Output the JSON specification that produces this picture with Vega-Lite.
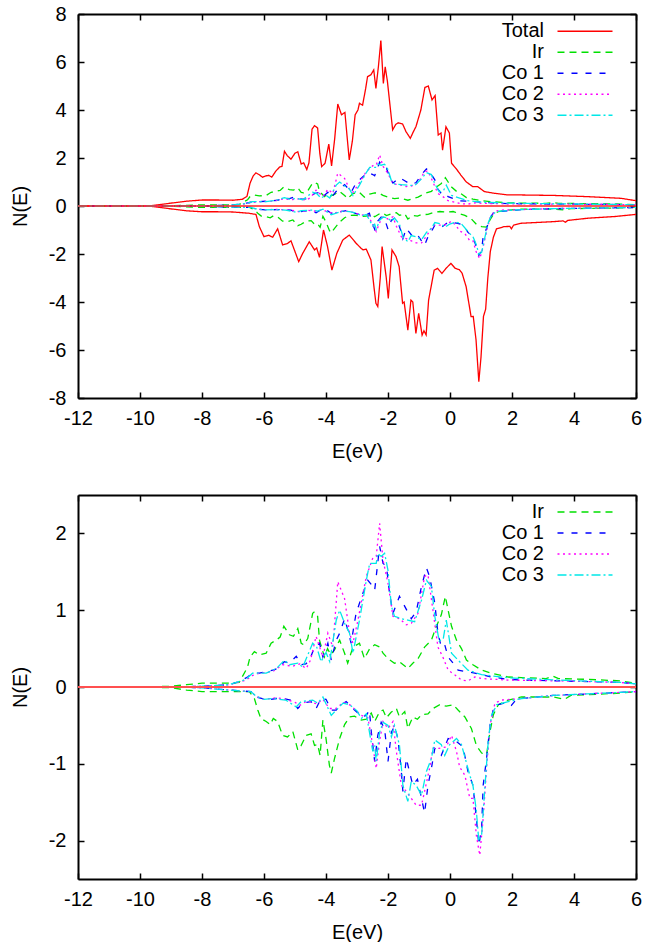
{
"$schema": "https://vega.github.io/schema/vega-lite/v6.json",
"background": "white",
"padding": {"left": 10, "top": 4, "right": 0, "bottom": 0},
"spacing": 33,
"config": {
  "font": "Liberation Sans",
  "view": {"stroke": null},
  "axis": {"labelFont": "Liberation Sans", "labelFontSize": 20, "labelColor": "black", "titleFont": "Liberation Sans", "titleFontSize": 20, "titleFontWeight": "normal", "titleColor": "black", "grid": false, "domainColor": "black", "domainWidth": 2, "tickColor": "black", "tickWidth": 1.5, "tickSize": -6, "labelFlush": false, "labelOverlap": false, "labelExpr": "'' + datum.value"},
  "axisX": {"labelPadding": 16, "titlePadding": 13},
  "axisY": {"labelPadding": 18, "titlePadding": 18},
  "legend": {"title": null, "orient": "none", "symbolType": "M-5,0H5", "symbolSize": 121, "symbolStrokeWidth": 1.5, "labelFont": "Liberation Sans", "labelFontSize": 20, "labelColor": "black", "labelAlign": "right", "labelOffset": -51, "rowPadding": 1, "padding": 0}
},
"datasets": {
"dos": [
{"s":"Total","p":"u","E":-12,"N":0},{"s":"Total","p":"u","E":-10,"N":0},{"s":"Total","p":"u","E":-9.6,"N":0.02},{"s":"Total","p":"u","E":-9.0,"N":0.12},{"s":"Total","p":"u","E":-8.5,"N":0.2},{"s":"Total","p":"u","E":-8.0,"N":0.25},{"s":"Total","p":"u","E":-7.5,"N":0.25},{"s":"Total","p":"u","E":-7.0,"N":0.24},{"s":"Total","p":"u","E":-6.7,"N":0.28},{"s":"Total","p":"u","E":-6.55,"N":0.4},{"s":"Total","p":"u","E":-6.45,"N":0.95},{"s":"Total","p":"u","E":-6.35,"N":1.25},{"s":"Total","p":"u","E":-6.26,"N":1.38},{"s":"Total","p":"u","E":-6.15,"N":1.3},{"s":"Total","p":"u","E":-6.05,"N":1.2},{"s":"Total","p":"u","E":-5.95,"N":1.25},{"s":"Total","p":"u","E":-5.85,"N":1.28},{"s":"Total","p":"u","E":-5.75,"N":1.2},{"s":"Total","p":"u","E":-5.62,"N":1.45},{"s":"Total","p":"u","E":-5.5,"N":1.62},{"s":"Total","p":"u","E":-5.42,"N":1.65},{"s":"Total","p":"u","E":-5.34,"N":2.28},{"s":"Total","p":"u","E":-5.25,"N":2.1},{"s":"Total","p":"u","E":-5.13,"N":1.95},{"s":"Total","p":"u","E":-5.0,"N":2.2},{"s":"Total","p":"u","E":-4.91,"N":2.26},{"s":"Total","p":"u","E":-4.8,"N":1.75},{"s":"Total","p":"u","E":-4.72,"N":1.8},{"s":"Total","p":"u","E":-4.62,"N":1.52},{"s":"Total","p":"u","E":-4.55,"N":1.8},{"s":"Total","p":"u","E":-4.45,"N":3.2},{"s":"Total","p":"u","E":-4.37,"N":3.35},{"s":"Total","p":"u","E":-4.27,"N":3.25},{"s":"Total","p":"u","E":-4.2,"N":2.2},{"s":"Total","p":"u","E":-4.14,"N":1.64},{"s":"Total","p":"u","E":-4.03,"N":1.78},{"s":"Total","p":"u","E":-3.91,"N":2.58},{"s":"Total","p":"u","E":-3.82,"N":1.67},{"s":"Total","p":"u","E":-3.72,"N":2.8},{"s":"Total","p":"u","E":-3.62,"N":4.25},{"s":"Total","p":"u","E":-3.5,"N":3.8},{"s":"Total","p":"u","E":-3.39,"N":3.9},{"s":"Total","p":"u","E":-3.32,"N":2.9},{"s":"Total","p":"u","E":-3.25,"N":1.92},{"s":"Total","p":"u","E":-3.15,"N":2.7},{"s":"Total","p":"u","E":-3.06,"N":3.8},{"s":"Total","p":"u","E":-2.97,"N":4.0},{"s":"Total","p":"u","E":-2.92,"N":4.28},{"s":"Total","p":"u","E":-2.82,"N":4.2},{"s":"Total","p":"u","E":-2.72,"N":4.9},{"s":"Total","p":"u","E":-2.66,"N":5.39},{"s":"Total","p":"u","E":-2.55,"N":5.47},{"s":"Total","p":"u","E":-2.46,"N":5.67},{"s":"Total","p":"u","E":-2.39,"N":4.9},{"s":"Total","p":"u","E":-2.31,"N":5.8},{"s":"Total","p":"u","E":-2.23,"N":6.89},{"s":"Total","p":"u","E":-2.15,"N":5.11},{"s":"Total","p":"u","E":-2.09,"N":5.8},{"s":"Total","p":"u","E":-2.02,"N":5.2},{"s":"Total","p":"u","E":-1.96,"N":4.49},{"s":"Total","p":"u","E":-1.85,"N":3.17},{"s":"Total","p":"u","E":-1.75,"N":3.4},{"s":"Total","p":"u","E":-1.67,"N":3.47},{"s":"Total","p":"u","E":-1.53,"N":3.42},{"s":"Total","p":"u","E":-1.42,"N":3.1},{"s":"Total","p":"u","E":-1.28,"N":2.82},{"s":"Total","p":"u","E":-1.18,"N":3.1},{"s":"Total","p":"u","E":-1.1,"N":3.3},{"s":"Total","p":"u","E":-0.94,"N":4.0},{"s":"Total","p":"u","E":-0.81,"N":4.94},{"s":"Total","p":"u","E":-0.7,"N":5.0},{"s":"Total","p":"u","E":-0.58,"N":4.42},{"s":"Total","p":"u","E":-0.48,"N":4.6},{"s":"Total","p":"u","E":-0.38,"N":2.96},{"s":"Total","p":"u","E":-0.29,"N":3.04},{"s":"Total","p":"u","E":-0.24,"N":2.33},{"s":"Total","p":"u","E":-0.13,"N":3.3},{"s":"Total","p":"u","E":-0.02,"N":3.04},{"s":"Total","p":"u","E":0.05,"N":1.78},{"s":"Total","p":"u","E":0.19,"N":1.57},{"s":"Total","p":"u","E":0.35,"N":1.29},{"s":"Total","p":"u","E":0.52,"N":1.01},{"s":"Total","p":"u","E":0.73,"N":0.81},{"s":"Total","p":"u","E":0.89,"N":0.81},{"s":"Total","p":"u","E":1.11,"N":0.6},{"s":"Total","p":"u","E":1.43,"N":0.53},{"s":"Total","p":"u","E":1.86,"N":0.46},{"s":"Total","p":"u","E":2.3,"N":0.46},{"s":"Total","p":"u","E":3.36,"N":0.44},{"s":"Total","p":"u","E":4.44,"N":0.39},{"s":"Total","p":"u","E":5.52,"N":0.32},{"s":"Total","p":"u","E":6.0,"N":0.22},
{"s":"Total","p":"d","E":-12,"N":0},{"s":"Total","p":"d","E":-10,"N":0},{"s":"Total","p":"d","E":-9.6,"N":-0.02},{"s":"Total","p":"d","E":-9.0,"N":-0.12},{"s":"Total","p":"d","E":-8.5,"N":-0.2},{"s":"Total","p":"d","E":-8.0,"N":-0.24},{"s":"Total","p":"d","E":-7.5,"N":-0.24},{"s":"Total","p":"d","E":-7.0,"N":-0.25},{"s":"Total","p":"d","E":-6.5,"N":-0.3},{"s":"Total","p":"d","E":-6.26,"N":-0.35},{"s":"Total","p":"d","E":-6.15,"N":-0.86},{"s":"Total","p":"d","E":-6.0,"N":-1.28},{"s":"Total","p":"d","E":-5.85,"N":-1.22},{"s":"Total","p":"d","E":-5.72,"N":-1.3},{"s":"Total","p":"d","E":-5.56,"N":-0.95},{"s":"Total","p":"d","E":-5.4,"N":-1.62},{"s":"Total","p":"d","E":-5.24,"N":-1.56},{"s":"Total","p":"d","E":-5.13,"N":-1.45},{"s":"Total","p":"d","E":-5.02,"N":-1.83},{"s":"Total","p":"d","E":-4.88,"N":-2.32},{"s":"Total","p":"d","E":-4.75,"N":-1.97},{"s":"Total","p":"d","E":-4.54,"N":-1.49},{"s":"Total","p":"d","E":-4.37,"N":-1.83},{"s":"Total","p":"d","E":-4.3,"N":-1.75},{"s":"Total","p":"d","E":-4.21,"N":-2.14},{"s":"Total","p":"d","E":-4.08,"N":-1.0},{"s":"Total","p":"d","E":-3.95,"N":-1.69},{"s":"Total","p":"d","E":-3.81,"N":-2.67},{"s":"Total","p":"d","E":-3.65,"N":-1.97},{"s":"Total","p":"d","E":-3.46,"N":-1.42},{"s":"Total","p":"d","E":-3.25,"N":-1.21},{"s":"Total","p":"d","E":-3.03,"N":-1.55},{"s":"Total","p":"d","E":-2.87,"N":-1.76},{"s":"Total","p":"d","E":-2.8,"N":-1.83},{"s":"Total","p":"d","E":-2.7,"N":-1.8},{"s":"Total","p":"d","E":-2.55,"N":-2.25},{"s":"Total","p":"d","E":-2.45,"N":-3.4},{"s":"Total","p":"d","E":-2.39,"N":-4.05},{"s":"Total","p":"d","E":-2.33,"N":-4.19},{"s":"Total","p":"d","E":-2.25,"N":-3.0},{"s":"Total","p":"d","E":-2.19,"N":-1.69},{"s":"Total","p":"d","E":-2.06,"N":-2.94},{"s":"Total","p":"d","E":-1.99,"N":-3.85},{"s":"Total","p":"d","E":-1.93,"N":-2.8},{"s":"Total","p":"d","E":-1.87,"N":-1.83},{"s":"Total","p":"d","E":-1.74,"N":-2.11},{"s":"Total","p":"d","E":-1.64,"N":-2.53},{"s":"Total","p":"d","E":-1.53,"N":-4.05},{"s":"Total","p":"d","E":-1.48,"N":-4.0},{"s":"Total","p":"d","E":-1.36,"N":-5.17},{"s":"Total","p":"d","E":-1.26,"N":-3.92},{"s":"Total","p":"d","E":-1.2,"N":-4.0},{"s":"Total","p":"d","E":-1.1,"N":-5.31},{"s":"Total","p":"d","E":-1.01,"N":-4.47},{"s":"Total","p":"d","E":-0.9,"N":-5.38},{"s":"Total","p":"d","E":-0.84,"N":-5.2},{"s":"Total","p":"d","E":-0.77,"N":-5.37},{"s":"Total","p":"d","E":-0.69,"N":-3.92},{"s":"Total","p":"d","E":-0.51,"N":-2.67},{"s":"Total","p":"d","E":-0.4,"N":-2.6},{"s":"Total","p":"d","E":-0.26,"N":-2.81},{"s":"Total","p":"d","E":-0.13,"N":-2.6},{"s":"Total","p":"d","E":0.03,"N":-2.39},{"s":"Total","p":"d","E":0.17,"N":-2.6},{"s":"Total","p":"d","E":0.3,"N":-2.65},{"s":"Total","p":"d","E":0.39,"N":-2.8},{"s":"Total","p":"d","E":0.52,"N":-3.36},{"s":"Total","p":"d","E":0.68,"N":-4.61},{"s":"Total","p":"d","E":0.75,"N":-4.6},{"s":"Total","p":"d","E":0.84,"N":-5.58},{"s":"Total","p":"d","E":0.93,"N":-7.32},{"s":"Total","p":"d","E":1.0,"N":-6.3},{"s":"Total","p":"d","E":1.08,"N":-4.6},{"s":"Total","p":"d","E":1.15,"N":-4.3},{"s":"Total","p":"d","E":1.22,"N":-3.0},{"s":"Total","p":"d","E":1.3,"N":-1.9},{"s":"Total","p":"d","E":1.4,"N":-1.3},{"s":"Total","p":"d","E":1.5,"N":-0.95},{"s":"Total","p":"d","E":1.75,"N":-0.86},{"s":"Total","p":"d","E":1.93,"N":-0.85},{"s":"Total","p":"d","E":1.98,"N":-0.95},{"s":"Total","p":"d","E":2.05,"N":-0.8},{"s":"Total","p":"d","E":2.29,"N":-0.72},{"s":"Total","p":"d","E":3.36,"N":-0.65},{"s":"Total","p":"d","E":3.65,"N":-0.62},{"s":"Total","p":"d","E":3.72,"N":-0.68},{"s":"Total","p":"d","E":3.8,"N":-0.6},{"s":"Total","p":"d","E":4.44,"N":-0.51},{"s":"Total","p":"d","E":5.3,"N":-0.44},{"s":"Total","p":"d","E":6.0,"N":-0.35},
{"s":"Ir","p":"u","E":-12,"N":0},{"s":"Ir","p":"u","E":-10,"N":0},{"s":"Ir","p":"u","E":-9,"N":0.01},{"s":"Ir","p":"u","E":-8.5,"N":0.03},{"s":"Ir","p":"u","E":-8,"N":0.05},{"s":"Ir","p":"u","E":-7.5,"N":0.05},{"s":"Ir","p":"u","E":-7.12,"N":0.05},{"s":"Ir","p":"u","E":-6.8,"N":0.06},{"s":"Ir","p":"u","E":-6.53,"N":0.26},{"s":"Ir","p":"u","E":-6.45,"N":0.39},{"s":"Ir","p":"u","E":-6.31,"N":0.46},{"s":"Ir","p":"u","E":-6.15,"N":0.42},{"s":"Ir","p":"u","E":-5.93,"N":0.44},{"s":"Ir","p":"u","E":-5.77,"N":0.57},{"s":"Ir","p":"u","E":-5.61,"N":0.61},{"s":"Ir","p":"u","E":-5.48,"N":0.65},{"s":"Ir","p":"u","E":-5.36,"N":0.79},{"s":"Ir","p":"u","E":-5.18,"N":0.68},{"s":"Ir","p":"u","E":-5.05,"N":0.66},{"s":"Ir","p":"u","E":-4.91,"N":0.76},{"s":"Ir","p":"u","E":-4.8,"N":0.57},{"s":"Ir","p":"u","E":-4.72,"N":0.55},{"s":"Ir","p":"u","E":-4.59,"N":0.63},{"s":"Ir","p":"u","E":-4.43,"N":0.96},{"s":"Ir","p":"u","E":-4.37,"N":0.98},{"s":"Ir","p":"u","E":-4.27,"N":0.92},{"s":"Ir","p":"u","E":-4.21,"N":0.61},{"s":"Ir","p":"u","E":-4.05,"N":0.39},{"s":"Ir","p":"u","E":-3.95,"N":0.5},{"s":"Ir","p":"u","E":-3.85,"N":0.42},{"s":"Ir","p":"u","E":-3.73,"N":0.48},{"s":"Ir","p":"u","E":-3.56,"N":0.61},{"s":"Ir","p":"u","E":-3.4,"N":0.44},{"s":"Ir","p":"u","E":-3.3,"N":0.31},{"s":"Ir","p":"u","E":-3.13,"N":0.52},{"s":"Ir","p":"u","E":-2.92,"N":0.57},{"s":"Ir","p":"u","E":-2.76,"N":0.37},{"s":"Ir","p":"u","E":-2.59,"N":0.5},{"s":"Ir","p":"u","E":-2.43,"N":0.55},{"s":"Ir","p":"u","E":-2.27,"N":0.52},{"s":"Ir","p":"u","E":-2.16,"N":0.44},{"s":"Ir","p":"u","E":-2.0,"N":0.37},{"s":"Ir","p":"u","E":-1.79,"N":0.31},{"s":"Ir","p":"u","E":-1.63,"N":0.33},{"s":"Ir","p":"u","E":-1.36,"N":0.24},{"s":"Ir","p":"u","E":-1.2,"N":0.31},{"s":"Ir","p":"u","E":-1.03,"N":0.37},{"s":"Ir","p":"u","E":-0.82,"N":0.52},{"s":"Ir","p":"u","E":-0.6,"N":0.61},{"s":"Ir","p":"u","E":-0.44,"N":0.79},{"s":"Ir","p":"u","E":-0.28,"N":0.94},{"s":"Ir","p":"u","E":-0.15,"N":1.18},{"s":"Ir","p":"u","E":-0.06,"N":1.0},{"s":"Ir","p":"u","E":0.05,"N":0.79},{"s":"Ir","p":"u","E":0.21,"N":0.61},{"s":"Ir","p":"u","E":0.37,"N":0.5},{"s":"Ir","p":"u","E":0.53,"N":0.35},{"s":"Ir","p":"u","E":0.74,"N":0.29},{"s":"Ir","p":"u","E":1.02,"N":0.22},{"s":"Ir","p":"u","E":1.34,"N":0.18},{"s":"Ir","p":"u","E":1.88,"N":0.13},{"s":"Ir","p":"u","E":2.42,"N":0.12},{"s":"Ir","p":"u","E":3.1,"N":0.11},{"s":"Ir","p":"u","E":3.33,"N":0.14},{"s":"Ir","p":"u","E":3.5,"N":0.11},{"s":"Ir","p":"u","E":4.41,"N":0.1},{"s":"Ir","p":"u","E":5.49,"N":0.08},{"s":"Ir","p":"u","E":6.0,"N":0.05},
{"s":"Ir","p":"d","E":-12,"N":0},{"s":"Ir","p":"d","E":-10,"N":0},{"s":"Ir","p":"d","E":-9,"N":-0.01},{"s":"Ir","p":"d","E":-8.5,"N":-0.04},{"s":"Ir","p":"d","E":-8,"N":-0.06},{"s":"Ir","p":"d","E":-7.5,"N":-0.06},{"s":"Ir","p":"d","E":-7.12,"N":-0.06},{"s":"Ir","p":"d","E":-6.47,"N":-0.06},{"s":"Ir","p":"d","E":-6.31,"N":-0.15},{"s":"Ir","p":"d","E":-6.2,"N":-0.3},{"s":"Ir","p":"d","E":-6.1,"N":-0.41},{"s":"Ir","p":"d","E":-5.93,"N":-0.45},{"s":"Ir","p":"d","E":-5.8,"N":-0.49},{"s":"Ir","p":"d","E":-5.7,"N":-0.41},{"s":"Ir","p":"d","E":-5.56,"N":-0.45},{"s":"Ir","p":"d","E":-5.4,"N":-0.63},{"s":"Ir","p":"d","E":-5.24,"N":-0.65},{"s":"Ir","p":"d","E":-5.07,"N":-0.58},{"s":"Ir","p":"d","E":-4.91,"N":-0.82},{"s":"Ir","p":"d","E":-4.8,"N":-0.76},{"s":"Ir","p":"d","E":-4.64,"N":-0.63},{"s":"Ir","p":"d","E":-4.48,"N":-0.61},{"s":"Ir","p":"d","E":-4.37,"N":-0.76},{"s":"Ir","p":"d","E":-4.27,"N":-0.75},{"s":"Ir","p":"d","E":-4.19,"N":-0.89},{"s":"Ir","p":"d","E":-4.1,"N":-0.43},{"s":"Ir","p":"d","E":-4.0,"N":-0.67},{"s":"Ir","p":"d","E":-3.89,"N":-1.02},{"s":"Ir","p":"d","E":-3.83,"N":-1.12},{"s":"Ir","p":"d","E":-3.73,"N":-0.94},{"s":"Ir","p":"d","E":-3.56,"N":-0.67},{"s":"Ir","p":"d","E":-3.4,"N":-0.49},{"s":"Ir","p":"d","E":-3.24,"N":-0.39},{"s":"Ir","p":"d","E":-3.08,"N":-0.38},{"s":"Ir","p":"d","E":-2.86,"N":-0.43},{"s":"Ir","p":"d","E":-2.7,"N":-0.42},{"s":"Ir","p":"d","E":-2.54,"N":-0.34},{"s":"Ir","p":"d","E":-2.43,"N":-0.45},{"s":"Ir","p":"d","E":-2.27,"N":-0.32},{"s":"Ir","p":"d","E":-2.16,"N":-0.3},{"s":"Ir","p":"d","E":-2.05,"N":-0.4},{"s":"Ir","p":"d","E":-1.9,"N":-0.33},{"s":"Ir","p":"d","E":-1.73,"N":-0.28},{"s":"Ir","p":"d","E":-1.63,"N":-0.39},{"s":"Ir","p":"d","E":-1.46,"N":-0.32},{"s":"Ir","p":"d","E":-1.36,"N":-0.54},{"s":"Ir","p":"d","E":-1.2,"N":-0.39},{"s":"Ir","p":"d","E":-1.05,"N":-0.42},{"s":"Ir","p":"d","E":-0.92,"N":-0.36},{"s":"Ir","p":"d","E":-0.71,"N":-0.35},{"s":"Ir","p":"d","E":-0.55,"N":-0.28},{"s":"Ir","p":"d","E":-0.33,"N":-0.23},{"s":"Ir","p":"d","E":-0.12,"N":-0.25},{"s":"Ir","p":"d","E":0.1,"N":-0.23},{"s":"Ir","p":"d","E":0.26,"N":-0.3},{"s":"Ir","p":"d","E":0.48,"N":-0.39},{"s":"Ir","p":"d","E":0.69,"N":-0.54},{"s":"Ir","p":"d","E":0.85,"N":-0.76},{"s":"Ir","p":"d","E":1.02,"N":-0.86},{"s":"Ir","p":"d","E":1.18,"N":-0.88},{"s":"Ir","p":"d","E":1.29,"N":-0.58},{"s":"Ir","p":"d","E":1.4,"N":-0.36},{"s":"Ir","p":"d","E":1.56,"N":-0.23},{"s":"Ir","p":"d","E":1.88,"N":-0.17},{"s":"Ir","p":"d","E":2.31,"N":-0.13},{"s":"Ir","p":"d","E":3.33,"N":-0.13},{"s":"Ir","p":"d","E":3.7,"N":-0.16},{"s":"Ir","p":"d","E":3.9,"N":-0.11},{"s":"Ir","p":"d","E":4.41,"N":-0.1},{"s":"Ir","p":"d","E":5.49,"N":-0.08},{"s":"Ir","p":"d","E":6.0,"N":-0.06},
{"s":"Co 1","p":"u","E":-12,"N":0},{"s":"Co 1","p":"u","E":-9,"N":0},{"s":"Co 1","p":"u","E":-8,"N":0.01},{"s":"Co 1","p":"u","E":-7.12,"N":0.03},{"s":"Co 1","p":"u","E":-6.8,"N":0.07},{"s":"Co 1","p":"u","E":-6.53,"N":0.13},{"s":"Co 1","p":"u","E":-6.37,"N":0.18},{"s":"Co 1","p":"u","E":-6.15,"N":0.18},{"s":"Co 1","p":"u","E":-5.93,"N":0.2},{"s":"Co 1","p":"u","E":-5.72,"N":0.22},{"s":"Co 1","p":"u","E":-5.56,"N":0.24},{"s":"Co 1","p":"u","E":-5.34,"N":0.33},{"s":"Co 1","p":"u","E":-5.18,"N":0.31},{"s":"Co 1","p":"u","E":-4.96,"N":0.4},{"s":"Co 1","p":"u","E":-4.8,"N":0.29},{"s":"Co 1","p":"u","E":-4.65,"N":0.3},{"s":"Co 1","p":"u","E":-4.53,"N":0.35},{"s":"Co 1","p":"u","E":-4.37,"N":0.52},{"s":"Co 1","p":"u","E":-4.21,"N":0.57},{"s":"Co 1","p":"u","E":-4.1,"N":0.39},{"s":"Co 1","p":"u","E":-3.94,"N":0.57},{"s":"Co 1","p":"u","E":-3.83,"N":0.35},{"s":"Co 1","p":"u","E":-3.67,"N":0.61},{"s":"Co 1","p":"u","E":-3.56,"N":0.7},{"s":"Co 1","p":"u","E":-3.4,"N":0.89},{"s":"Co 1","p":"u","E":-3.3,"N":0.75},{"s":"Co 1","p":"u","E":-3.19,"N":0.57},{"s":"Co 1","p":"u","E":-3.03,"N":0.96},{"s":"Co 1","p":"u","E":-2.81,"N":1.22},{"s":"Co 1","p":"u","E":-2.65,"N":1.39},{"s":"Co 1","p":"u","E":-2.49,"N":1.31},{"s":"Co 1","p":"u","E":-2.43,"N":1.26},{"s":"Co 1","p":"u","E":-2.27,"N":1.83},{"s":"Co 1","p":"u","E":-2.16,"N":1.61},{"s":"Co 1","p":"u","E":-2.05,"N":1.57},{"s":"Co 1","p":"u","E":-1.95,"N":1.22},{"s":"Co 1","p":"u","E":-1.84,"N":0.96},{"s":"Co 1","p":"u","E":-1.63,"N":1.18},{"s":"Co 1","p":"u","E":-1.46,"N":1.05},{"s":"Co 1","p":"u","E":-1.25,"N":0.89},{"s":"Co 1","p":"u","E":-1.09,"N":0.98},{"s":"Co 1","p":"u","E":-0.92,"N":1.31},{"s":"Co 1","p":"u","E":-0.76,"N":1.55},{"s":"Co 1","p":"u","E":-0.66,"N":1.44},{"s":"Co 1","p":"u","E":-0.49,"N":1.09},{"s":"Co 1","p":"u","E":-0.39,"N":0.7},{"s":"Co 1","p":"u","E":-0.28,"N":0.52},{"s":"Co 1","p":"u","E":-0.17,"N":0.55},{"s":"Co 1","p":"u","E":-0.06,"N":0.39},{"s":"Co 1","p":"u","E":0.1,"N":0.31},{"s":"Co 1","p":"u","E":0.26,"N":0.22},{"s":"Co 1","p":"u","E":0.53,"N":0.2},{"s":"Co 1","p":"u","E":0.8,"N":0.18},{"s":"Co 1","p":"u","E":1.34,"N":0.13},{"s":"Co 1","p":"u","E":1.88,"N":0.1},{"s":"Co 1","p":"u","E":2.42,"N":0.09},{"s":"Co 1","p":"u","E":3.5,"N":0.08},{"s":"Co 1","p":"u","E":4.5,"N":0.07},{"s":"Co 1","p":"u","E":5.5,"N":0.06},{"s":"Co 1","p":"u","E":6.0,"N":0.04},
{"s":"Co 1","p":"d","E":-12,"N":0},{"s":"Co 1","p":"d","E":-9,"N":0},{"s":"Co 1","p":"d","E":-8,"N":-0.01},{"s":"Co 1","p":"d","E":-7.12,"N":-0.04},{"s":"Co 1","p":"d","E":-6.42,"N":-0.06},{"s":"Co 1","p":"d","E":-6.26,"N":-0.13},{"s":"Co 1","p":"d","E":-6.05,"N":-0.15},{"s":"Co 1","p":"d","E":-5.88,"N":-0.17},{"s":"Co 1","p":"d","E":-5.61,"N":-0.15},{"s":"Co 1","p":"d","E":-5.4,"N":-0.15},{"s":"Co 1","p":"d","E":-5.13,"N":-0.17},{"s":"Co 1","p":"d","E":-4.91,"N":-0.28},{"s":"Co 1","p":"d","E":-4.75,"N":-0.21},{"s":"Co 1","p":"d","E":-4.48,"N":-0.19},{"s":"Co 1","p":"d","E":-4.32,"N":-0.28},{"s":"Co 1","p":"d","E":-4.16,"N":-0.15},{"s":"Co 1","p":"d","E":-4.0,"N":-0.16},{"s":"Co 1","p":"d","E":-3.83,"N":-0.3},{"s":"Co 1","p":"d","E":-3.67,"N":-0.3},{"s":"Co 1","p":"d","E":-3.51,"N":-0.23},{"s":"Co 1","p":"d","E":-3.35,"N":-0.19},{"s":"Co 1","p":"d","E":-3.13,"N":-0.28},{"s":"Co 1","p":"d","E":-2.97,"N":-0.34},{"s":"Co 1","p":"d","E":-2.86,"N":-0.39},{"s":"Co 1","p":"d","E":-2.7,"N":-0.37},{"s":"Co 1","p":"d","E":-2.6,"N":-0.3},{"s":"Co 1","p":"d","E":-2.54,"N":-0.58},{"s":"Co 1","p":"d","E":-2.43,"N":-0.97},{"s":"Co 1","p":"d","E":-2.33,"N":-0.63},{"s":"Co 1","p":"d","E":-2.22,"N":-0.46},{"s":"Co 1","p":"d","E":-2.11,"N":-0.54},{"s":"Co 1","p":"d","E":-2.0,"N":-0.97},{"s":"Co 1","p":"d","E":-1.89,"N":-0.59},{"s":"Co 1","p":"d","E":-1.79,"N":-0.51},{"s":"Co 1","p":"d","E":-1.68,"N":-0.67},{"s":"Co 1","p":"d","E":-1.57,"N":-1.1},{"s":"Co 1","p":"d","E":-1.52,"N":-1.36},{"s":"Co 1","p":"d","E":-1.41,"N":-0.93},{"s":"Co 1","p":"d","E":-1.2,"N":-1.28},{"s":"Co 1","p":"d","E":-1.05,"N":-1.2},{"s":"Co 1","p":"d","E":-0.92,"N":-1.45},{"s":"Co 1","p":"d","E":-0.82,"N":-1.64},{"s":"Co 1","p":"d","E":-0.71,"N":-1.28},{"s":"Co 1","p":"d","E":-0.6,"N":-1.06},{"s":"Co 1","p":"d","E":-0.49,"N":-0.8},{"s":"Co 1","p":"d","E":-0.28,"N":-0.89},{"s":"Co 1","p":"d","E":-0.06,"N":-0.67},{"s":"Co 1","p":"d","E":0.21,"N":-0.71},{"s":"Co 1","p":"d","E":0.42,"N":-0.78},{"s":"Co 1","p":"d","E":0.58,"N":-1.1},{"s":"Co 1","p":"d","E":0.74,"N":-1.28},{"s":"Co 1","p":"d","E":0.85,"N":-1.71},{"s":"Co 1","p":"d","E":0.93,"N":-2.06},{"s":"Co 1","p":"d","E":1.02,"N":-1.84},{"s":"Co 1","p":"d","E":1.07,"N":-1.28},{"s":"Co 1","p":"d","E":1.18,"N":-0.93},{"s":"Co 1","p":"d","E":1.29,"N":-0.5},{"s":"Co 1","p":"d","E":1.4,"N":-0.28},{"s":"Co 1","p":"d","E":1.56,"N":-0.23},{"s":"Co 1","p":"d","E":1.85,"N":-0.2},{"s":"Co 1","p":"d","E":1.98,"N":-0.24},{"s":"Co 1","p":"d","E":2.1,"N":-0.18},{"s":"Co 1","p":"d","E":2.31,"N":-0.15},{"s":"Co 1","p":"d","E":3.33,"N":-0.11},{"s":"Co 1","p":"d","E":4.41,"N":-0.09},{"s":"Co 1","p":"d","E":5.5,"N":-0.07},{"s":"Co 1","p":"d","E":6.0,"N":-0.06},
{"s":"Co 2","p":"u","E":-12,"N":0},{"s":"Co 2","p":"u","E":-9,"N":0},{"s":"Co 2","p":"u","E":-8,"N":0.01},{"s":"Co 2","p":"u","E":-7.12,"N":0.03},{"s":"Co 2","p":"u","E":-6.58,"N":0.09},{"s":"Co 2","p":"u","E":-6.37,"N":0.15},{"s":"Co 2","p":"u","E":-6.15,"N":0.18},{"s":"Co 2","p":"u","E":-5.72,"N":0.2},{"s":"Co 2","p":"u","E":-5.4,"N":0.29},{"s":"Co 2","p":"u","E":-5.08,"N":0.27},{"s":"Co 2","p":"u","E":-4.85,"N":0.3},{"s":"Co 2","p":"u","E":-4.64,"N":0.24},{"s":"Co 2","p":"u","E":-4.5,"N":0.35},{"s":"Co 2","p":"u","E":-4.32,"N":0.66},{"s":"Co 2","p":"u","E":-4.1,"N":0.39},{"s":"Co 2","p":"u","E":-3.94,"N":0.7},{"s":"Co 2","p":"u","E":-3.78,"N":0.52},{"s":"Co 2","p":"u","E":-3.62,"N":1.37},{"s":"Co 2","p":"u","E":-3.4,"N":1.15},{"s":"Co 2","p":"u","E":-3.24,"N":0.7},{"s":"Co 2","p":"u","E":-3.13,"N":0.57},{"s":"Co 2","p":"u","E":-2.97,"N":0.87},{"s":"Co 2","p":"u","E":-2.7,"N":1.44},{"s":"Co 2","p":"u","E":-2.49,"N":1.68},{"s":"Co 2","p":"u","E":-2.38,"N":1.7},{"s":"Co 2","p":"u","E":-2.27,"N":2.13},{"s":"Co 2","p":"u","E":-2.16,"N":1.65},{"s":"Co 2","p":"u","E":-2.0,"N":1.35},{"s":"Co 2","p":"u","E":-1.84,"N":0.92},{"s":"Co 2","p":"u","E":-1.63,"N":0.89},{"s":"Co 2","p":"u","E":-1.41,"N":0.81},{"s":"Co 2","p":"u","E":-1.25,"N":0.83},{"s":"Co 2","p":"u","E":-1.03,"N":0.96},{"s":"Co 2","p":"u","E":-0.82,"N":1.44},{"s":"Co 2","p":"u","E":-0.71,"N":1.46},{"s":"Co 2","p":"u","E":-0.55,"N":1.0},{"s":"Co 2","p":"u","E":-0.39,"N":0.52},{"s":"Co 2","p":"u","E":-0.23,"N":0.39},{"s":"Co 2","p":"u","E":-0.06,"N":0.22},{"s":"Co 2","p":"u","E":0.15,"N":0.16},{"s":"Co 2","p":"u","E":0.37,"N":0.09},{"s":"Co 2","p":"u","E":0.58,"N":0.08},{"s":"Co 2","p":"u","E":0.8,"N":0.13},{"s":"Co 2","p":"u","E":1.02,"N":0.11},{"s":"Co 2","p":"u","E":1.88,"N":0.09},{"s":"Co 2","p":"u","E":3.5,"N":0.08},{"s":"Co 2","p":"u","E":5.5,"N":0.06},{"s":"Co 2","p":"u","E":6.0,"N":0.04},
{"s":"Co 2","p":"d","E":-12,"N":0},{"s":"Co 2","p":"d","E":-9,"N":0},{"s":"Co 2","p":"d","E":-8,"N":-0.01},{"s":"Co 2","p":"d","E":-7.12,"N":-0.04},{"s":"Co 2","p":"d","E":-6.42,"N":-0.06},{"s":"Co 2","p":"d","E":-6.26,"N":-0.12},{"s":"Co 2","p":"d","E":-6.0,"N":-0.16},{"s":"Co 2","p":"d","E":-5.6,"N":-0.14},{"s":"Co 2","p":"d","E":-5.3,"N":-0.16},{"s":"Co 2","p":"d","E":-5.0,"N":-0.2},{"s":"Co 2","p":"d","E":-4.85,"N":-0.24},{"s":"Co 2","p":"d","E":-4.6,"N":-0.18},{"s":"Co 2","p":"d","E":-4.3,"N":-0.22},{"s":"Co 2","p":"d","E":-4.1,"N":-0.16},{"s":"Co 2","p":"d","E":-3.89,"N":-0.28},{"s":"Co 2","p":"d","E":-3.67,"N":-0.28},{"s":"Co 2","p":"d","E":-3.45,"N":-0.2},{"s":"Co 2","p":"d","E":-3.2,"N":-0.24},{"s":"Co 2","p":"d","E":-2.86,"N":-0.37},{"s":"Co 2","p":"d","E":-2.65,"N":-0.4},{"s":"Co 2","p":"d","E":-2.49,"N":-0.76},{"s":"Co 2","p":"d","E":-2.38,"N":-1.06},{"s":"Co 2","p":"d","E":-2.27,"N":-0.7},{"s":"Co 2","p":"d","E":-2.16,"N":-0.45},{"s":"Co 2","p":"d","E":-2.0,"N":-0.54},{"s":"Co 2","p":"d","E":-1.84,"N":-0.45},{"s":"Co 2","p":"d","E":-1.73,"N":-0.84},{"s":"Co 2","p":"d","E":-1.57,"N":-1.28},{"s":"Co 2","p":"d","E":-1.41,"N":-1.36},{"s":"Co 2","p":"d","E":-1.25,"N":-1.45},{"s":"Co 2","p":"d","E":-1.09,"N":-1.54},{"s":"Co 2","p":"d","E":-0.92,"N":-1.54},{"s":"Co 2","p":"d","E":-0.82,"N":-1.36},{"s":"Co 2","p":"d","E":-0.66,"N":-1.06},{"s":"Co 2","p":"d","E":-0.55,"N":-0.8},{"s":"Co 2","p":"d","E":-0.35,"N":-0.8},{"s":"Co 2","p":"d","E":-0.12,"N":-0.78},{"s":"Co 2","p":"d","E":0.05,"N":-0.63},{"s":"Co 2","p":"d","E":0.21,"N":-0.84},{"s":"Co 2","p":"d","E":0.31,"N":-1.04},{"s":"Co 2","p":"d","E":0.48,"N":-1.15},{"s":"Co 2","p":"d","E":0.64,"N":-1.45},{"s":"Co 2","p":"d","E":0.74,"N":-1.45},{"s":"Co 2","p":"d","E":0.85,"N":-1.93},{"s":"Co 2","p":"d","E":0.96,"N":-2.19},{"s":"Co 2","p":"d","E":1.07,"N":-1.71},{"s":"Co 2","p":"d","E":1.18,"N":-1.06},{"s":"Co 2","p":"d","E":1.29,"N":-0.5},{"s":"Co 2","p":"d","E":1.45,"N":-0.21},{"s":"Co 2","p":"d","E":1.66,"N":-0.17},{"s":"Co 2","p":"d","E":2.31,"N":-0.15},{"s":"Co 2","p":"d","E":3.33,"N":-0.11},{"s":"Co 2","p":"d","E":4.41,"N":-0.09},{"s":"Co 2","p":"d","E":5.5,"N":-0.07},{"s":"Co 2","p":"d","E":6.0,"N":-0.06},
{"s":"Co 3","p":"u","E":-12,"N":0},{"s":"Co 3","p":"u","E":-9,"N":0},{"s":"Co 3","p":"u","E":-8,"N":0.01},{"s":"Co 3","p":"u","E":-7.12,"N":0.03},{"s":"Co 3","p":"u","E":-6.58,"N":0.1},{"s":"Co 3","p":"u","E":-6.37,"N":0.18},{"s":"Co 3","p":"u","E":-5.93,"N":0.18},{"s":"Co 3","p":"u","E":-5.6,"N":0.24},{"s":"Co 3","p":"u","E":-5.34,"N":0.35},{"s":"Co 3","p":"u","E":-5.18,"N":0.29},{"s":"Co 3","p":"u","E":-4.91,"N":0.31},{"s":"Co 3","p":"u","E":-4.75,"N":0.26},{"s":"Co 3","p":"u","E":-4.43,"N":0.57},{"s":"Co 3","p":"u","E":-4.3,"N":0.52},{"s":"Co 3","p":"u","E":-4.16,"N":0.33},{"s":"Co 3","p":"u","E":-4.0,"N":0.45},{"s":"Co 3","p":"u","E":-3.88,"N":0.33},{"s":"Co 3","p":"u","E":-3.67,"N":0.87},{"s":"Co 3","p":"u","E":-3.56,"N":1.0},{"s":"Co 3","p":"u","E":-3.4,"N":0.83},{"s":"Co 3","p":"u","E":-3.24,"N":0.7},{"s":"Co 3","p":"u","E":-3.13,"N":0.44},{"s":"Co 3","p":"u","E":-2.92,"N":0.87},{"s":"Co 3","p":"u","E":-2.7,"N":1.39},{"s":"Co 3","p":"u","E":-2.59,"N":1.61},{"s":"Co 3","p":"u","E":-2.38,"N":1.61},{"s":"Co 3","p":"u","E":-2.33,"N":1.74},{"s":"Co 3","p":"u","E":-2.22,"N":1.7},{"s":"Co 3","p":"u","E":-2.11,"N":1.74},{"s":"Co 3","p":"u","E":-2.0,"N":1.52},{"s":"Co 3","p":"u","E":-1.89,"N":1.05},{"s":"Co 3","p":"u","E":-1.79,"N":0.92},{"s":"Co 3","p":"u","E":-1.57,"N":0.89},{"s":"Co 3","p":"u","E":-1.36,"N":0.87},{"s":"Co 3","p":"u","E":-1.14,"N":0.85},{"s":"Co 3","p":"u","E":-0.92,"N":1.13},{"s":"Co 3","p":"u","E":-0.76,"N":1.39},{"s":"Co 3","p":"u","E":-0.6,"N":1.31},{"s":"Co 3","p":"u","E":-0.49,"N":0.92},{"s":"Co 3","p":"u","E":-0.35,"N":0.6},{"s":"Co 3","p":"u","E":-0.22,"N":0.62},{"s":"Co 3","p":"u","E":-0.12,"N":0.87},{"s":"Co 3","p":"u","E":0.05,"N":0.44},{"s":"Co 3","p":"u","E":0.26,"N":0.35},{"s":"Co 3","p":"u","E":0.58,"N":0.22},{"s":"Co 3","p":"u","E":1.02,"N":0.16},{"s":"Co 3","p":"u","E":1.88,"N":0.12},{"s":"Co 3","p":"u","E":3.5,"N":0.09},{"s":"Co 3","p":"u","E":5.5,"N":0.06},{"s":"Co 3","p":"u","E":6.0,"N":0.04},
{"s":"Co 3","p":"d","E":-12,"N":0},{"s":"Co 3","p":"d","E":-9,"N":0},{"s":"Co 3","p":"d","E":-8,"N":-0.01},{"s":"Co 3","p":"d","E":-7.12,"N":-0.04},{"s":"Co 3","p":"d","E":-6.42,"N":-0.06},{"s":"Co 3","p":"d","E":-6.26,"N":-0.12},{"s":"Co 3","p":"d","E":-6.0,"N":-0.16},{"s":"Co 3","p":"d","E":-5.7,"N":-0.15},{"s":"Co 3","p":"d","E":-5.3,"N":-0.17},{"s":"Co 3","p":"d","E":-4.96,"N":-0.26},{"s":"Co 3","p":"d","E":-4.8,"N":-0.19},{"s":"Co 3","p":"d","E":-4.43,"N":-0.17},{"s":"Co 3","p":"d","E":-4.27,"N":-0.21},{"s":"Co 3","p":"d","E":-4.1,"N":-0.13},{"s":"Co 3","p":"d","E":-3.83,"N":-0.37},{"s":"Co 3","p":"d","E":-3.67,"N":-0.3},{"s":"Co 3","p":"d","E":-3.45,"N":-0.21},{"s":"Co 3","p":"d","E":-3.24,"N":-0.23},{"s":"Co 3","p":"d","E":-3.0,"N":-0.31},{"s":"Co 3","p":"d","E":-2.86,"N":-0.41},{"s":"Co 3","p":"d","E":-2.7,"N":-0.35},{"s":"Co 3","p":"d","E":-2.49,"N":-0.84},{"s":"Co 3","p":"d","E":-2.43,"N":-0.76},{"s":"Co 3","p":"d","E":-2.38,"N":-0.97},{"s":"Co 3","p":"d","E":-2.27,"N":-0.59},{"s":"Co 3","p":"d","E":-2.16,"N":-0.46},{"s":"Co 3","p":"d","E":-2.0,"N":-0.5},{"s":"Co 3","p":"d","E":-1.89,"N":-0.65},{"s":"Co 3","p":"d","E":-1.79,"N":-0.5},{"s":"Co 3","p":"d","E":-1.63,"N":-0.76},{"s":"Co 3","p":"d","E":-1.52,"N":-1.28},{"s":"Co 3","p":"d","E":-1.36,"N":-1.49},{"s":"Co 3","p":"d","E":-1.25,"N":-1.23},{"s":"Co 3","p":"d","E":-1.09,"N":-1.28},{"s":"Co 3","p":"d","E":-0.92,"N":-1.41},{"s":"Co 3","p":"d","E":-0.76,"N":-1.1},{"s":"Co 3","p":"d","E":-0.6,"N":-0.93},{"s":"Co 3","p":"d","E":-0.49,"N":-0.69},{"s":"Co 3","p":"d","E":-0.28,"N":-0.75},{"s":"Co 3","p":"d","E":-0.17,"N":-0.89},{"s":"Co 3","p":"d","E":-0.01,"N":-0.75},{"s":"Co 3","p":"d","E":0.21,"N":-0.67},{"s":"Co 3","p":"d","E":0.37,"N":-0.75},{"s":"Co 3","p":"d","E":0.64,"N":-1.15},{"s":"Co 3","p":"d","E":0.74,"N":-1.28},{"s":"Co 3","p":"d","E":0.85,"N":-1.61},{"s":"Co 3","p":"d","E":0.93,"N":-2.01},{"s":"Co 3","p":"d","E":1.02,"N":-1.93},{"s":"Co 3","p":"d","E":1.13,"N":-1.28},{"s":"Co 3","p":"d","E":1.24,"N":-0.67},{"s":"Co 3","p":"d","E":1.34,"N":-0.37},{"s":"Co 3","p":"d","E":1.51,"N":-0.23},{"s":"Co 3","p":"d","E":1.88,"N":-0.19},{"s":"Co 3","p":"d","E":2.31,"N":-0.15},{"s":"Co 3","p":"d","E":3.33,"N":-0.11},{"s":"Co 3","p":"d","E":4.41,"N":-0.09},{"s":"Co 3","p":"d","E":5.5,"N":-0.07},{"s":"Co 3","p":"d","E":6.0,"N":-0.06}
],
"zero": [{"E":-12,"N":0},{"E":6,"N":0}]
},
"resolve": {"scale": {"x": "independent", "y": "independent", "color": "independent", "strokeDash": "independent"}, "legend": {"color": "independent", "strokeDash": "independent"}},
"vconcat": [
{
  "width": 558, "height": 384,
  "layer": [
    {
      "data": {"name": "dos"},
      "mark": {"type": "line", "strokeWidth": 1.3},
      "encoding": {
        "x": {"field": "E", "type": "quantitative", "scale": {"domain": [-12, 6], "nice": false}, "axis": {"title": "E(eV)", "values": [-12,-10,-8,-6,-4,-2,0,2,4,6]}},
        "y": {"field": "N", "type": "quantitative", "scale": {"domain": [-8, 8], "nice": false}, "axis": {"title": "N(E)", "values": [-8,-6,-4,-2,0,2,4,6,8]}},
        "color": {"field": "s", "type": "nominal", "scale": {"domain": ["Total","Ir","Co 1","Co 2","Co 3"], "range": ["#ff0000","#00e000","#0000ff","#ff00ff","#00e8e8"]}, "legend": {"legendX": 497, "legendY": 7.2}},
        "strokeDash": {"field": "s", "type": "nominal", "scale": {"domain": ["Total","Ir","Co 1","Co 2","Co 3"], "range": [[1,0],[7,5],[6,8],[2,3.5],[9,3,2,3]]}, "legend": {"legendX": 497, "legendY": 7.2}},
        "detail": {"field": "p"}
      }
    },
    {
      "data": {"name": "zero"},
      "mark": {"type": "line", "color": "#ff2020", "strokeWidth": 1.6},
      "encoding": {
        "x": {"field": "E", "type": "quantitative", "axis": {"orient": "top", "labels": false, "title": null, "values": [-12,-10,-8,-6,-4,-2,0,2,4,6]}},
        "y": {"field": "N", "type": "quantitative", "axis": {"orient": "right", "labels": false, "title": null, "values": [-8,-6,-4,-2,0,2,4,6,8]}}
      }
    }
  ],
  "resolve": {"axis": {"x": "independent", "y": "independent"}}
},
{
  "width": 558, "height": 384,
  "layer": [
    {
      "data": {"name": "dos"},
      "transform": [{"filter": "datum.s !== 'Total'"}],
      "mark": {"type": "line", "strokeWidth": 1.3},
      "encoding": {
        "x": {"field": "E", "type": "quantitative", "scale": {"domain": [-12, 6], "nice": false}, "axis": {"title": "E(eV)", "values": [-12,-10,-8,-6,-4,-2,0,2,4,6]}},
        "y": {"field": "N", "type": "quantitative", "scale": {"domain": [-2.5, 2.5], "nice": false}, "axis": {"title": "N(E)", "values": [-2,-1,0,1,2]}},
        "color": {"field": "s", "type": "nominal", "scale": {"domain": ["Ir","Co 1","Co 2","Co 3"], "range": ["#00e000","#0000ff","#ff00ff","#00e8e8"]}, "legend": {"legendX": 497, "legendY": 7}},
        "strokeDash": {"field": "s", "type": "nominal", "scale": {"domain": ["Ir","Co 1","Co 2","Co 3"], "range": [[7,5],[6,8],[2,3.5],[9,3,2,3]]}, "legend": {"legendX": 497, "legendY": 7}},
        "detail": {"field": "p"}
      }
    },
    {
      "data": {"name": "zero"},
      "mark": {"type": "line", "color": "#ff5050", "strokeWidth": 2},
      "encoding": {
        "x": {"field": "E", "type": "quantitative", "axis": {"orient": "top", "labels": false, "title": null, "values": [-12,-10,-8,-6,-4,-2,0,2,4,6]}},
        "y": {"field": "N", "type": "quantitative", "axis": {"orient": "right", "labels": false, "title": null, "values": [-2,-1,0,1,2]}}
      }
    }
  ],
  "resolve": {"axis": {"x": "independent", "y": "independent"}}
}
]
}
